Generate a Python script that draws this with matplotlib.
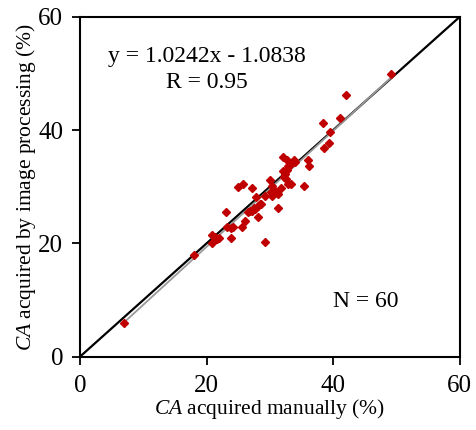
import matplotlib
matplotlib.use("Agg")
import matplotlib.pyplot as plt
import numpy as np

plt.rcParams['font.family'] = ['Liberation Serif', 'DejaVu Serif']
plt.rcParams['mathtext.fontset'] = 'custom'
plt.rcParams['mathtext.it'] = 'Liberation Serif:italic'
plt.rcParams['mathtext.rm'] = 'Liberation Serif'

# manual vs image processing (%)
manual = [42.1, 41.0, 38.4, 39.5, 39.3, 38.5, 35.95, 36.2, 35.4, 33.85,
          34.0, 32.0, 32.65, 32.9, 32.65, 32.1, 32.3, 32.5, 32.8, 33.3,
          31.7, 30.0, 30.3, 30.2, 30.3, 31.3, 31.3, 29.3, 29.3, 27.8,
          27.1, 25.7, 24.9, 28.4, 28.1, 27.7, 27.1, 26.9, 28.2, 26.1,
          25.6, 24.2, 23.9, 23.9, 23.1, 23.3, 20.9, 20.9, 21.6, 21.4,
          18.0, 6.9, 49.2, 27.5, 28.6, 32.4, 33.1, 30.6, 26.5, 22.0]
image = [46.2, 42.2, 41.2, 39.7, 37.8, 36.8, 34.7, 33.65, 30.2, 34.7,
         34.35, 35.2, 34.8, 33.65, 32.95, 32.8, 31.8, 31.4, 30.4, 30.4,
         29.8, 31.1, 30.1, 29.0, 28.4, 28.8, 26.2, 28.4, 20.2, 28.2,
         29.8, 30.5, 30.0, 26.9, 26.6, 26.1, 25.8, 25.7, 24.6, 23.9,
         22.9, 22.9, 22.8, 20.9, 25.5, 22.9, 21.5, 20.1, 20.7, 21.2,
         17.9, 5.9, 49.9, 26.3, 27.0, 32.3, 33.9, 29.5, 25.6, 20.9]
slope = 1.0242
icept = -1.0838

fig = plt.figure(figsize=(4.76, 4.30), dpi=100)
ax = fig.add_axes([0.168, 0.1705, 0.798, 0.7905])

ax.plot([0, 60], [0, 60], color='black', lw=1.6, zorder=2)
xr = np.array([min(manual), max(manual)])
ax.plot(xr, slope * xr + icept, color='#999999', lw=1.3, zorder=3)
ax.plot(manual, image, linestyle='none', marker='D', markersize=3.8,
        color='#C00000', zorder=4)

ax.set_xlim(0, 60)
ax.set_ylim(0, 60)
ax.set_xticks([0, 20, 40, 60])
ax.set_yticks([0, 20, 40, 60])
ax.tick_params(direction='out', length=6, width=1.3, labelsize=18)
ax.tick_params(axis='x', pad=7)
ax.tick_params(axis='y', pad=6)
for s in ax.spines.values():
    s.set_linewidth(1.5)

ax.set_xlabel('$\\it{CA}$ acquired manually (%)', fontsize=15.5, labelpad=0)
ax.set_ylabel('$\\it{CA}$ acquired by image processing (%)', fontsize=15.5, labelpad=0)

ax.text(20, 52.9, 'y = 1.0242x - 1.0838', fontsize=17, ha='center', va='center')
ax.text(20, 48.4, 'R = 0.95', fontsize=17, ha='center', va='center')
ax.text(45.2, 9.8, 'N = 60', fontsize=17, ha='center', va='center')

fig.savefig('out.png', dpi=100)
